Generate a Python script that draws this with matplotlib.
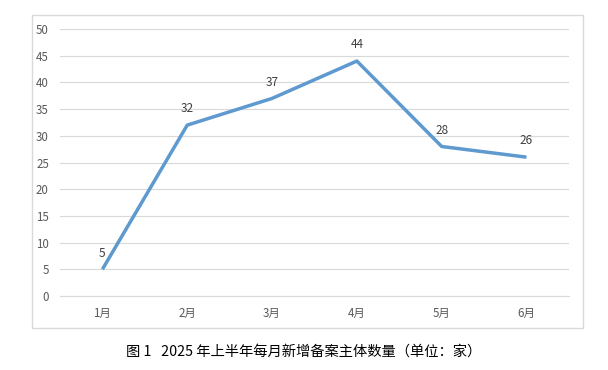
import matplotlib
matplotlib.use("Agg")
import matplotlib.pyplot as plt
from matplotlib.patches import Rectangle

plt.rcParams['font.family'] = ['Noto Sans CJK SC', 'DejaVu Sans']

months = ["1月", "2月", "3月", "4月", "5月", "6月"]
values = [5, 32, 37, 44, 28, 26]
yticks = [0, 5, 10, 15, 20, 25, 30, 35, 40, 45, 50]
caption = "图 1   2025 年上半年每月新增备案主体数量（单位：家）"

fig = plt.figure(figsize=(6.08, 3.70), dpi=100)
fig.patches.append(Rectangle((0.0526, 0.1135), 0.906, 0.846, transform=fig.transFigure,
                             fill=False, edgecolor='#d9d9d9', linewidth=1.0))
ax = fig.add_axes([0.0987, 0.2, 0.837, 0.7216])
x = list(range(len(months)))
ax.plot(x, values, color='#5e99cf', linewidth=2.5, solid_capstyle='butt')
for xi, v in zip(x, values):
    ax.annotate(str(v), (xi, v), xytext=(0, 7), textcoords='offset points',
                ha='center', va='bottom', fontsize=8.5, color='#404040')
ax.set_xlim(-0.5, len(months) - 0.5)
ax.set_ylim(0, 50)
ax.set_yticks(yticks)
ax.set_xticks(x)
ax.set_xticklabels(months)
ax.grid(axis='y', color='#d9d9d9', linewidth=0.8)
ax.set_axisbelow(True)
for s in ['top', 'right', 'left']:
    ax.spines[s].set_visible(False)
ax.spines['bottom'].set_color('#d9d9d9')
ax.tick_params(axis='both', length=0, labelsize=8.3, labelcolor='#595959')
ax.tick_params(axis='y', pad=8)
ax.tick_params(axis='x', pad=8)
fig.text(0.5, 0.049, caption, ha='center', va='center', fontsize=10.3,
         color='#000000', fontweight='medium')
fig.savefig("out.png", dpi=100)
